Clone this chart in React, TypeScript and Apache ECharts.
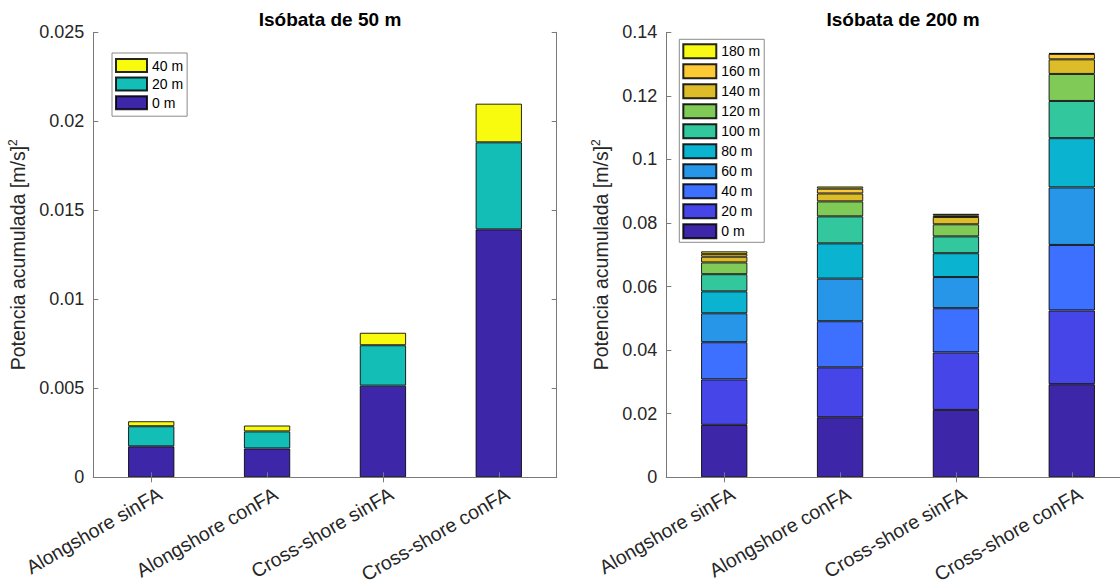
import React, { useEffect, useRef } from 'react';
import * as echarts from 'echarts';

const categories = ['Alongshore sinFA', 'Alongshore conFA', 'Cross-shore sinFA', 'Cross-shore conFA'];

// Isóbata de 50 m (per-layer contributions)
const depths50 = ['0 m', '20 m', '40 m'];
const v50_0m = [0.00174, 0.00162, 0.00515, 0.01393];
const v50_20m = [0.00113, 0.00096, 0.00227, 0.00489];
const v50_40m = [0.00028, 0.00033, 0.0007, 0.00217];
const colors50 = ['#3E26A8', '#13BEB7', '#F9FB0E'];

// Isóbata de 200 m (per-layer contributions)
const depths200 = ['0 m', '20 m', '40 m', '60 m', '80 m', '100 m', '120 m', '140 m', '160 m', '180 m'];
const v200_0m = [0.0165, 0.0189, 0.0212, 0.0293];
const v200_20m = [0.0143, 0.0157, 0.0181, 0.0232];
const v200_40m = [0.0117, 0.0145, 0.0139, 0.0206];
const v200_60m = [0.0091, 0.0134, 0.0098, 0.0181];
const v200_80m = [0.0069, 0.0111, 0.0075, 0.0155];
const v200_100m = [0.0054, 0.0085, 0.0053, 0.0117];
const v200_120m = [0.0037, 0.0047, 0.0038, 0.0085];
const v200_140m = [0.0018, 0.0025, 0.0023, 0.0046];
const v200_160m = [0.0009, 0.0015, 0.0005, 0.0017];
const v200_180m = [0.0008, 0.0007, 0.0005, 0.0003];
const colors200 = ['#3E26A8', '#4646E8', '#3D70FE', '#2896E8', '#0AB4D0', '#33C79D', '#80CB58', '#DDBC2A', '#FCCA35', '#F8F915'];

const yTicks50 = { min: 0, max: 0.025, interval: 0.005 };
const yTicks200 = { min: 0, max: 0.14, interval: 0.02 };

const FONT = '"Liberation Sans", Arial, Helvetica, sans-serif';
const TXT = '#262626';
const AXIS = '#7a7a7a';

function fmt(v: number) {
  return String(parseFloat(v.toFixed(4)));
}

function buildOption(cfg: any) {
  const { title, titleX, gridLeft, names, values, colors, yTicks, legend, nameGap } = cfg;
  const grid = { left: gridLeft, top: 32.3, width: 463.4, height: 445, outerBoundsMode: 'none', containLabel: false };
  const catAxisBase = {
    type: 'category',
    data: categories,
    boundaryGap: true,
    z: 5,
    axisLine: { show: true, lineStyle: { color: AXIS, width: 1 } },
    axisTick: { show: true, inside: true, length: 5, alignWithLabel: true, lineStyle: { color: AXIS } },
    splitLine: { show: false },
  };
  const valAxisBase = {
    type: 'value',
    min: yTicks.min,
    max: yTicks.max,
    interval: yTicks.interval,
    z: 5,
    axisLine: { show: true, lineStyle: { color: AXIS, width: 1 } },
    axisTick: { show: true, inside: true, length: 5, lineStyle: { color: AXIS } },
    splitLine: { show: false },
  };
  return {
    animation: false,
    textStyle: { fontFamily: FONT },
    title: {
      text: title,
      left: titleX,
      top: 5,
      textAlign: 'center',
      textStyle: { fontFamily: FONT, fontWeight: 'bold', fontSize: 19, color: '#000' },
    },
    legend: {
      orient: 'vertical',
      left: legend.left,
      top: legend.top,
      data: names.slice().reverse(),
      icon: 'rect',
      itemWidth: legend.iw,
      itemHeight: legend.ih,
      itemGap: legend.gap,
      padding: legend.padding,
      backgroundColor: '#fff',
      borderColor: '#8a8a8a',
      borderWidth: 1,
      textStyle: { fontFamily: FONT, fontSize: legend.fs, color: '#000' },
      selectedMode: false,
    },
    grid,
    xAxis: [
      {
        ...catAxisBase,
        position: 'bottom',
        axisLabel: {
          show: true,
          rotate: 30,
          interval: 0,
          margin: 20,
          padding: [0, -10, 0, 0],
          fontSize: 19.5,
          color: TXT,
          fontFamily: FONT,
        },
      },
      { ...catAxisBase, position: 'top', axisLabel: { show: false } },
    ],
    yAxis: [
      {
        ...valAxisBase,
        position: 'left',
        name: '{a|Potencia acumulada [m/s]}{b|2}',
        nameLocation: 'middle',
        nameGap,
        nameRotate: 90,
        nameTextStyle: {
          rich: {
            a: { fontSize: 19.5, color: TXT, fontFamily: FONT, lineHeight: 22 },
            b: { fontSize: 12, color: TXT, fontFamily: FONT, verticalAlign: 'top', lineHeight: 22 },
          },
        },
        axisLabel: { show: true, margin: 9, fontSize: 18, color: TXT, fontFamily: FONT, formatter: fmt },
      },
      { ...valAxisBase, position: 'right', axisLabel: { show: false } },
    ],
    series: names.map((n: string, i: number) => ({
      type: 'bar',
      name: n,
      stack: 'total',
      data: values[i],
      xAxisIndex: 0,
      yAxisIndex: 0,
      barWidth: '40%',
      itemStyle: { color: colors[i], borderColor: 'rgba(0,0,0,0.85)', borderWidth: 1 },
      emphasis: { disabled: true },
    })),
  };
}

const option50 = buildOption({
  title: 'Isóbata de 50 m',
  titleX: 325,
  gridLeft: 93.3,
  names: depths50,
  values: [v50_0m, v50_20m, v50_40m],
  colors: colors50,
  yTicks: yTicks50,
  nameGap: 55,
  legend: { left: 112, top: 53, iw: 31, ih: 13, gap: 3.6, fs: 14, padding: [5, 4, 6, 3] },
});

const option200 = buildOption({
  title: 'Isóbata de 200 m',
  titleX: 338,
  gridLeft: 106.3,
  names: depths200,
  values: [v200_0m, v200_20m, v200_40m, v200_60m, v200_80m, v200_100m, v200_120m, v200_140m, v200_160m, v200_180m],
  colors: colors200,
  yTicks: yTicks200,
  nameGap: 44,
  legend: { left: 119.3, top: 39.3, iw: 33, ih: 14, gap: 4, fs: 14, padding: [4, 4, 3, 3] },
});

function Chart({ option, left, width }: { option: any; left: number; width: number }) {
  const ref = useRef<HTMLDivElement>(null);
  useEffect(() => {
    if (!ref.current) return;
    const chart = echarts.init(ref.current, null, { renderer: 'svg' });
    chart.setOption(option);
    return () => chart.dispose();
  }, [option]);
  return (
    <div
      ref={ref}
      style={{ position: 'fixed', left, top: 0, width, height: 588, overflow: 'hidden', background: '#fff' }}
    />
  );
}

export default function App() {
  return (
    <div style={{ position: 'fixed', left: 0, top: 0, width: 1120, height: 588, background: '#fff' }}>
      <Chart option={option50} left={0} width={560} />
      <Chart option={option200} left={560} width={560} />
    </div>
  );
}
